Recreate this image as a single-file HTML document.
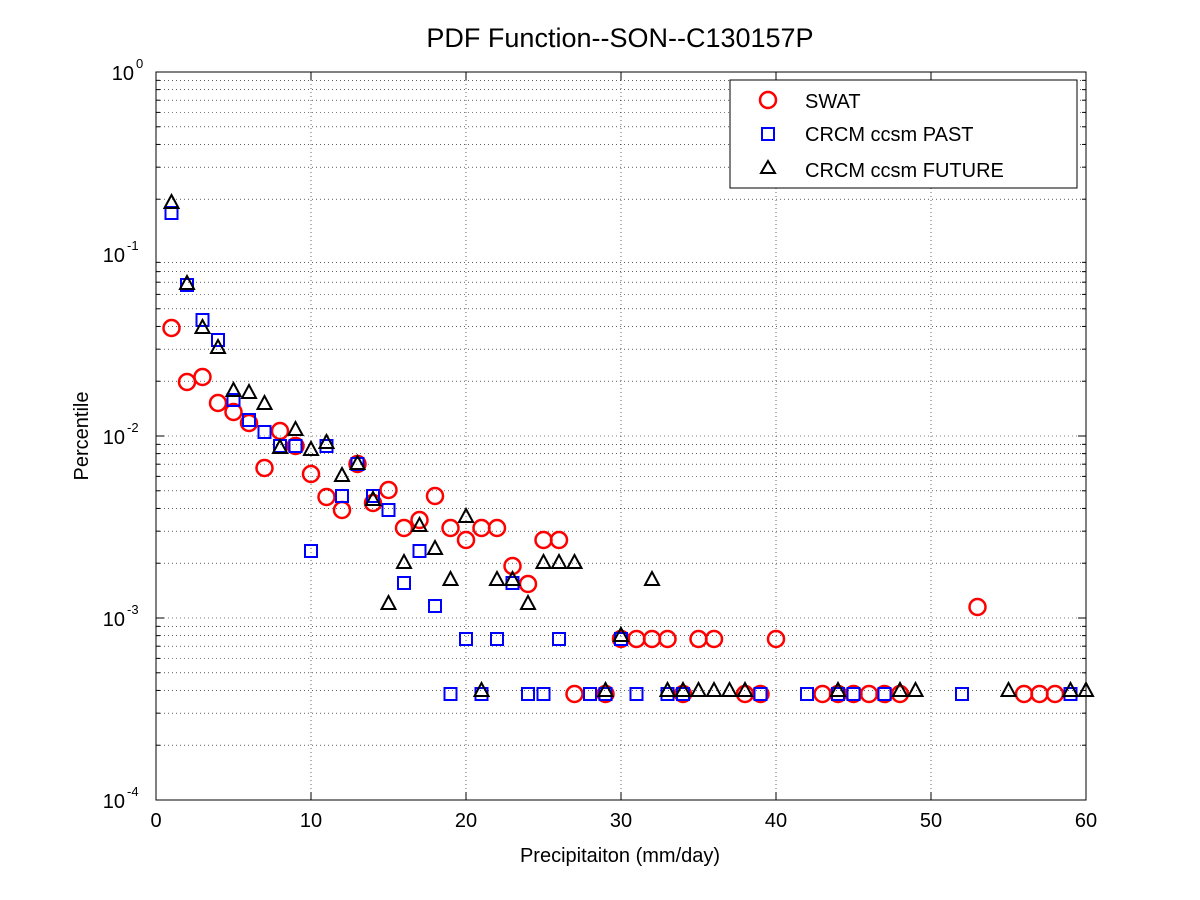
<!DOCTYPE html>
<html><head><meta charset="utf-8"><style>
html,body{margin:0;padding:0;background:#fff;}
svg{display:block;font-family:"Liberation Sans",Arial,sans-serif;}
</style></head><body>
<svg id="s" width="1200" height="900" xmlns="http://www.w3.org/2000/svg">
<rect width="1200" height="900" fill="#fff"/>
<g id="grid"></g>
<rect x="156" y="72" width="930" height="728" fill="none" stroke="#000" stroke-width="1"/>
<g id="ticks"></g>
<g id="data"></g>
<text x="620" y="47" font-size="27" text-anchor="middle">PDF Function--SON--C130157P</text>
<text x="620" y="862" font-size="20" text-anchor="middle">Precipitaiton (mm/day)</text>
<text x="88" y="436" font-size="20" text-anchor="middle" transform="rotate(-90 88 436)">Percentile</text>
<g>
<rect x="730" y="80" width="347" height="108" fill="#fff" stroke="#000" stroke-width="1"/>
<circle cx="768" cy="100" r="8" fill="none" stroke="#f00" stroke-width="2.5"/>
<text x="805" y="108" font-size="20">SWAT</text>
<rect x="762" y="128" width="12" height="12" fill="none" stroke="#00f" stroke-width="2"/>
<text x="805" y="141" font-size="20">CRCM ccsm PAST</text>
<path d="M768,161 L775,173 L761,173 Z" fill="none" stroke="#000" stroke-width="2"/>
<text x="805" y="177" font-size="20">CRCM ccsm FUTURE</text>
</g>
</svg>
<script>
var NS="http://www.w3.org/2000/svg";
function el(p,t,a){var e=document.createElementNS(NS,t);for(var k in a)e.setAttribute(k,a[k]);p.appendChild(e);return e;}
var grid=document.getElementById('grid'),ticks=document.getElementById('ticks'),data=document.getElementById('data');
var X0=156,XS=15.5,Y0=72,DY=182;
for(var i=0;i<=6;i++){var x=X0+i*155;
 if(i>0&&i<6)el(grid,'line',{x1:x,y1:72,x2:x,y2:800,stroke:'#000','stroke-width':0.6,'stroke-dasharray':'1,3'});
 el(ticks,'line',{x1:x,y1:800,x2:x,y2:792,stroke:'#000'});el(ticks,'line',{x1:x,y1:72,x2:x,y2:80,stroke:'#000'});
 var t=el(ticks,'text',{x:x,y:827,'font-size':20,'text-anchor':'middle'});t.textContent=i*10;}
for(var d=0;d<4;d++){for(var m=1;m<10;m++){var y=Y0+DY*(d+1)-DY*Math.log10(m);
 if(d==0&&m==1)continue;
 el(grid,'line',{x1:156,y1:y,x2:1086,y2:y,stroke:'#000','stroke-width':0.6,'stroke-dasharray':'1,3'});
 var L=m==1?8:4;el(ticks,'line',{x1:156,y1:y,x2:156+L,y2:y,stroke:'#000'});el(ticks,'line',{x1:1086,y1:y,x2:1086-L,y2:y,stroke:'#000'});}}
for(var d=0;d<=4;d++){var y=Y0+DY*d;var t=el(ticks,'text',{x:d==0?134:125,y:y+8,'font-size':20,'text-anchor':'end'});t.textContent='10';
 var s=el(ticks,'text',{x:d==0?136:127,y:y-4,'font-size':13});s.textContent=d==0?'0':'-'+d;}
var red=[[1,328],[2,382],[3,377],[4,403],[5,412],[6,423],[7,468],[8,431],[9,446],[10,474],[11,497],[12,510],[13,464],[14,503],[15,490],[16,528],[17,520],[18,496],[19,528],[20,540],[21,528],[22,528],[23,566],[24,584],[25,540],[26,540],[27,694],[29,694],[30,639],[31,639],[32,639],[33,639],[34,694],[35,639],[36,639],[38,694],[39,694],[40,639],[43,694],[44,694],[45,694],[46,694],[47,694],[48,694],[53,607],[56,694],[57,694],[58,694]];
var blue=[[1,213],[2,285],[3,320],[4,340],[5,400],[6,420],[7,432],[8,446],[9,446],[10,551],[11,446],[12,496],[13,464],[14,496],[15,510],[16,583],[17,551],[18,606],[19,694],[20,639],[21,694],[22,639],[23,583],[24,694],[25,694],[26,639],[28,694],[29,694],[30,639],[31,694],[33,694],[34,694],[39,694],[42,694],[44,694],[45,694],[47,694],[52,694],[59,694]];
var blk=[[1,203],[2,284],[3,328],[4,348],[5,391],[6,393],[7,404],[8,448],[9,430],[10,450],[11,443],[12,476],[13,464],[14,500],[15,604],[16,563],[17,526],[18,549],[19,580],[20,517],[21,691],[22,580],[23,580],[24,604],[25,563],[26,563],[27,563],[29,691],[30,636],[32,580],[33,691],[34,691],[35,691],[36,691],[37,691],[38,691],[44,691],[48,691],[49,691],[55,691],[59,691],[60,691]];
red.forEach(function(p){el(data,'circle',{cx:X0+p[0]*XS,cy:p[1],r:8,fill:'none',stroke:'#f00','stroke-width':2.5});});
blue.forEach(function(p){var x=X0+p[0]*XS;el(data,'rect',{x:x-6,y:p[1]-6,width:12,height:12,fill:'none',stroke:'#00f','stroke-width':2});});
blk.forEach(function(p){var x=X0+p[0]*XS,y=p[1];el(data,'path',{d:'M'+x+','+(y-8)+' L'+(x+7)+','+(y+5)+' L'+(x-7)+','+(y+5)+' Z',fill:'none',stroke:'#000','stroke-width':2});});
</script>
</body></html>
